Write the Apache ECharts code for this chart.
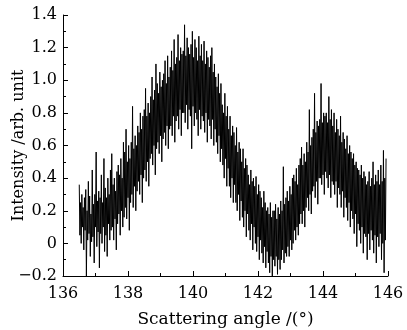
<!DOCTYPE html>
<html>
<head>
<meta charset="utf-8">
<script src="https://cdn.jsdelivr.net/npm/echarts@6/dist/echarts.min.js"></script>
<style>
  html, body { margin: 0; padding: 0; background: #fff; }
  #chart { width: 407px; height: 330px; }
</style>
</head>
<body>
<div id="chart"></div>
<script>
// sampling grid of the measurement (degrees)
var angleStart = 136.5;
var angleStep = 0.02;

// intensity, one value per sample
var intensity = [
  0.36, 0.05, 0.25, 0.00, 0.30, 0.10, 0.22, -0.04, 0.28, 0.08,
  0.33, -0.20, 0.20, 0.02, 0.38, 0.06, 0.29, -0.08, 0.18, 0.01,
  0.45, 0.04, 0.24, -0.12, 0.30, 0.10, 0.56, -0.02, 0.26, 0.07,
  0.32, -0.15, 0.28, 0.06, 0.42, 0.00, 0.25, 0.10, 0.52, -0.05,
  0.34, 0.05, 0.28, -0.08, 0.40, 0.12, 0.30, 0.02, 0.45, 0.08,
  0.55, 0.10, 0.36, 0.02, 0.40, 0.15, 0.32, -0.04, 0.44, 0.12,
  0.48, 0.18, 0.42, 0.05, 0.52, 0.20, 0.40, 0.10, 0.62, 0.16,
  0.56, 0.22, 0.70, 0.15, 0.50, 0.28, 0.60, 0.08, 0.52, 0.25,
  0.62, 0.30, 0.84, 0.22, 0.58, 0.35, 0.66, 0.20, 0.60, 0.32,
  0.72, 0.38, 0.68, 0.30, 0.80, 0.42, 0.70, 0.25, 0.78, 0.40,
  0.82, 0.45, 0.95, 0.38, 0.78, 0.50, 0.86, 0.35, 0.80, 0.52,
  0.90, 0.55, 1.02, 0.48, 0.88, 0.60, 0.94, 0.42, 1.10, 0.58,
  0.98, 0.62, 0.92, 0.55, 1.05, 0.66, 0.96, 0.50, 1.00, 0.64,
  1.04, 0.68, 1.12, 0.60, 0.98, 0.72, 1.15, 0.58, 1.02, 0.70,
  1.08, 0.72, 1.18, 0.66, 1.06, 0.78, 1.25, 0.62, 1.10, 0.75,
  1.14, 0.78, 1.28, 0.70, 1.12, 0.82, 1.20, 0.66, 1.16, 0.80,
  1.18, 0.80, 1.34, 0.74, 1.15, 0.85, 1.26, 0.70, 1.20, 0.82,
  1.16, 0.78, 1.22, 0.58, 1.30, 0.84, 1.14, 0.72, 1.25, 0.80,
  1.20, 0.76, 1.12, 0.66, 1.27, 0.82, 1.15, 0.70, 1.22, 0.78,
  1.12, 0.75, 1.24, 0.68, 1.10, 0.80, 1.18, 0.62, 1.14, 0.76,
  1.08, 0.72, 1.15, 0.64, 1.20, 0.76, 1.05, 0.60, 1.10, 0.70,
  1.02, 0.62, 0.96, 0.55, 1.04, 0.66, 0.92, 0.50, 0.98, 0.58,
  0.85, 0.48, 0.80, 0.40, 0.92, 0.52, 0.78, 0.35, 0.84, 0.46,
  0.70, 0.35, 0.78, 0.28, 0.66, 0.40, 0.72, 0.25, 0.68, 0.36,
  0.60, 0.25, 0.71, 0.20, 0.56, 0.30, 0.62, 0.14, 0.58, 0.26,
  0.50, 0.16, 0.58, 0.10, 0.46, 0.20, 0.52, 0.04, 0.48, 0.18,
  0.42, 0.08, 0.36, 0.02, 0.45, 0.12, 0.38, -0.04, 0.40, 0.10,
  0.35, 0.00, 0.41, -0.05, 0.30, 0.04, 0.36, -0.10, 0.32, 0.02,
  0.28, -0.06, 0.22, -0.12, 0.32, -0.02, 0.25, -0.15, 0.20, -0.05,
  0.22, -0.12, 0.18, -0.18, 0.25, -0.08, 0.16, -0.20, 0.20, -0.10,
  0.20, -0.14, 0.24, -0.08, 0.15, -0.19, 0.22, -0.10, 0.18, -0.16,
  0.26, -0.10, 0.20, -0.04, 0.47, -0.12, 0.24, -0.06, 0.28, -0.08,
  0.32, -0.02, 0.26, -0.08, 0.35, 0.02, 0.30, -0.04, 0.40, 0.00,
  0.42, 0.08, 0.38, 0.02, 0.46, 0.10, 0.36, 0.05, 0.48, 0.12,
  0.52, 0.18, 0.59, 0.12, 0.48, 0.20, 0.55, 0.10, 0.50, 0.22,
  0.62, 0.28, 0.56, 0.20, 0.82, 0.30, 0.60, 0.18, 0.65, 0.32,
  0.70, 0.35, 0.92, 0.28, 0.68, 0.38, 0.75, 0.24, 0.72, 0.40,
  0.76, 0.40, 0.98, 0.36, 0.74, 0.42, 0.80, 0.30, 0.78, 0.44,
  0.80, 0.40, 0.74, 0.34, 0.90, 0.42, 0.76, 0.28, 0.82, 0.38,
  0.72, 0.36, 0.80, 0.30, 0.68, 0.38, 0.76, 0.22, 0.70, 0.34,
  0.66, 0.30, 0.78, 0.22, 0.62, 0.32, 0.68, 0.16, 0.64, 0.28,
  0.58, 0.22, 0.66, 0.14, 0.55, 0.25, 0.60, 0.10, 0.56, 0.20,
  0.52, 0.15, 0.55, 0.06, 0.48, 0.18, 0.50, -0.02, 0.46, 0.12,
  0.45, 0.08, 0.42, 0.00, 0.48, 0.10, 0.40, -0.06, 0.44, 0.06,
  0.41, 0.04, 0.36, -0.10, 0.38, 0.06, 0.44, -0.04, 0.35, 0.08,
  0.40, 0.02, 0.50, -0.06, 0.36, 0.05, 0.42, -0.12, 0.38, 0.04,
  0.45, -0.02, 0.36, 0.06, 0.48, -0.10, 0.38, 0.00, 0.57, -0.18,
  0.40, 0.02, 0.52
];

var xLabel = "Scattering angle /(°)";
var yLabel = "Intensity /arb. unit";

var font = "'DejaVu Serif', 'Liberation Serif', serif";

var points = intensity.map(function (v, i) {
  return [angleStart + i * angleStep, v];
});

var chart = echarts.init(document.getElementById("chart"), null, { renderer: "canvas" });

chart.setOption({
  animation: false,
  backgroundColor: "#fff",
  grid: { left: 63, right: 19, top: 15, bottom: 54, outerBoundsMode: "none", containLabel: false },
  xAxis: {
    type: "value",
    min: 136,
    max: 146,
    interval: 2,
    name: xLabel,
    nameLocation: "middle",
    nameGap: 35,
    nameMoveOverlap: false,
    nameTextStyle: { color: "#000", fontFamily: font, fontSize: 17 },
    axisLine: { show: true, onZero: false, lineStyle: { color: "#000", width: 1 } },
    axisTick: { show: true, inside: true, length: 5, lineStyle: { color: "#000" } },
    minorTick: { show: true, splitNumber: 2, length: 3, lineStyle: { color: "#000" } },
    axisLabel: { color: "#000", fontFamily: font, fontSize: 16, margin: 10 },
    splitLine: { show: false }
  },
  yAxis: {
    type: "value",
    min: -0.2,
    max: 1.4,
    interval: 0.2,
    name: yLabel,
    nameLocation: "middle",
    nameGap: 36,
    nameMoveOverlap: false,
    nameTextStyle: { color: "#000", fontFamily: font, fontSize: 16 },
    axisLine: { show: true, onZero: false, lineStyle: { color: "#000", width: 1 } },
    axisTick: { show: true, inside: true, length: 5, lineStyle: { color: "#000" } },
    minorTick: { show: true, splitNumber: 2, length: 3, lineStyle: { color: "#000" } },
    axisLabel: {
      color: "#000",
      fontFamily: font,
      fontSize: 16,
      margin: 6,
      formatter: function (v) {
        if (Math.abs(v) < 1e-9) return "0";
        var s = Math.abs(v).toFixed(1);
        return v < 0 ? "\u2212" + s : s;
      }
    },
    splitLine: { show: false }
  },
  series: [{
    type: "line",
    data: points,
    symbol: "none",
    sampling: null,
    lineStyle: { color: "#000", width: 1 },
    clip: true
  }]
});
</script>
</body>
</html>
